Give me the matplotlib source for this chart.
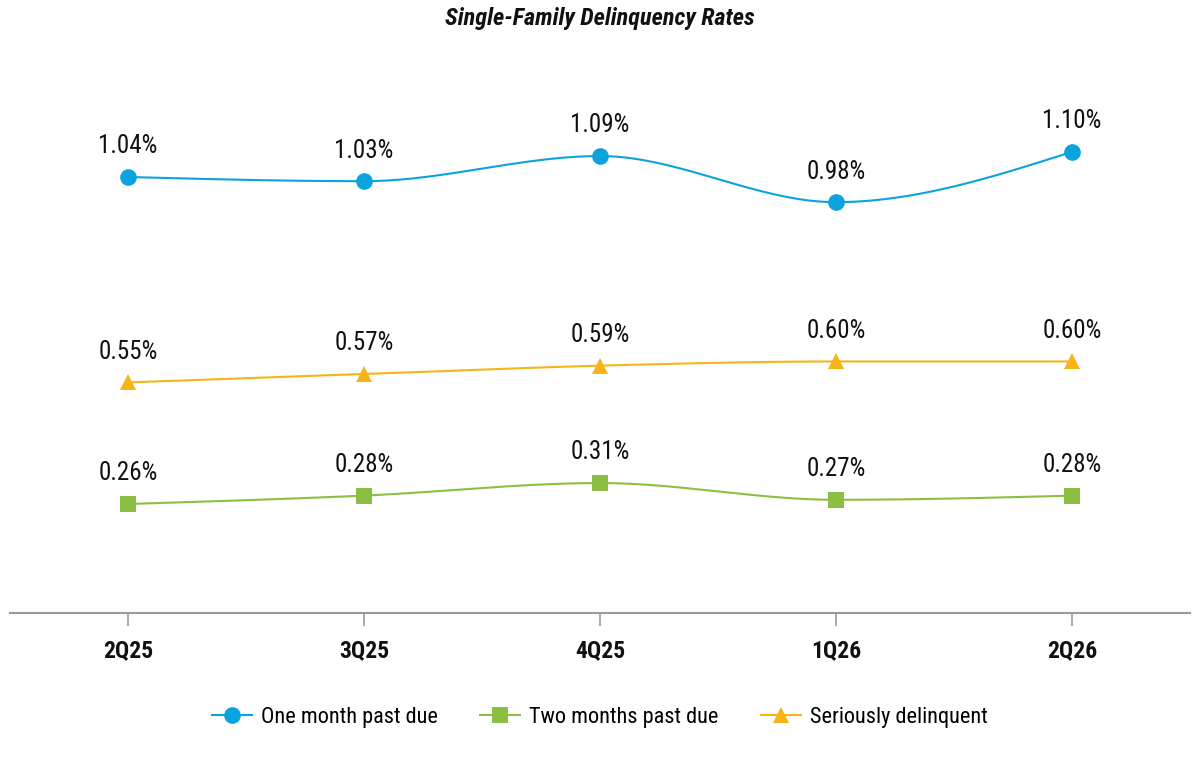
import numpy as np
import matplotlib
matplotlib.use("Agg")
import matplotlib.pyplot as plt
from matplotlib.lines import Line2D

plt.rcParams['font.family'] = ['Roboto Condensed', 'Liberation Sans Narrow', 'Roboto', 'DejaVu Sans']

categories = ["2Q25", "3Q25", "4Q25", "1Q26", "2Q26"]
one_month = [1.04, 1.03, 1.09, 0.98, 1.10]
two_months = [0.26, 0.28, 0.31, 0.27, 0.28]
serious = [0.55, 0.57, 0.59, 0.60, 0.60]

series_names = ["One month past due", "Two months past due", "Seriously delinquent"]
colors = ["#0BA3DD", "#8BBF44", "#F8B316"]
markers = ["o", "s", "^"]
msizes = [12, 11, 12]


def monotone_x(x, y, n=40):
    x = np.asarray(x, float); y = np.asarray(y, float)
    h = np.diff(x); s = np.diff(y) / h
    m = np.zeros(len(x))
    for i in range(1, len(x) - 1):
        s0, s1 = s[i - 1], s[i]
        p = (s0 * h[i] + s1 * h[i - 1]) / (h[i - 1] + h[i])
        m[i] = (np.sign(s0) + np.sign(s1)) * min(abs(s0), abs(s1), 0.5 * abs(p))
    m[0] = (3 * s[0] - m[1]) / 2 if len(x) > 2 else s[0]
    m[-1] = (3 * s[-1] - m[-2]) / 2 if len(x) > 2 else s[-1]
    xs, ys = [], []
    for i in range(len(x) - 1):
        t = np.linspace(0, 1, n)
        h00 = 2 * t**3 - 3 * t**2 + 1
        h10 = t**3 - 2 * t**2 + t
        h01 = -2 * t**3 + 3 * t**2
        h11 = t**3 - t**2
        xs.append(x[i] + t * h[i])
        ys.append(h00 * y[i] + h10 * h[i] * m[i] + h01 * y[i + 1] + h11 * h[i] * m[i + 1])
    return np.concatenate(xs), np.concatenate(ys)


fig = plt.figure(figsize=(12, 7.6), dpi=100)
ax = fig.add_axes([10 / 1200, (760 - 613) / 760, 1180 / 1200, (613 - 68) / 760])

xpos = np.arange(len(categories))
handles = []
for vals, name, c, mk, ms in zip([one_month, two_months, serious], series_names, colors, markers, msizes):
    sx, sy = monotone_x(xpos, vals)
    ax.plot(sx, sy, color=c, lw=1.5, zorder=2)
    ax.plot(xpos, vals, linestyle='none', marker=mk, markersize=ms, color=c, markeredgewidth=0, zorder=3)
    for xi, v in zip(xpos, vals):
        ax.annotate(f"{v:.2f}%", (xi, v), xytext=(0, 17), textcoords='offset points',
                    ha='center', va='baseline', fontsize=18, color='#111111')
    handles.append(Line2D([0], [0], color=c, lw=1.5, marker=mk, markersize=ms, markeredgewidth=0))

ax.set_xlim(-0.5, len(categories) - 0.5)
ax.set_ylim(0, 1.3)
ax.set_yticks([])
ax.set_xticks(xpos)
ax.set_xticklabels(categories, fontsize=17, fontweight='bold', color='#111111')
ax.tick_params(axis='x', length=9, width=1.2, color='#999999', pad=10)
for sp in ['top', 'left', 'right']:
    ax.spines[sp].set_visible(False)
ax.spines['bottom'].set_color('#999999')
ax.spines['bottom'].set_linewidth(1.5)

fig.text(0.5, 1 - 18 / 760, "Single-Family Delinquency Rates", ha='center', va='center',
         fontsize=17.5, fontweight='bold', style='italic', color='#111111')

fig.legend(handles, series_names, loc='center', bbox_to_anchor=(0.5, 1 - 717 / 760), ncol=3,
           frameon=False, fontsize=16, handlelength=1.8, columnspacing=1.9, handletextpad=0.4)

fig.savefig("out.png", dpi=100)
